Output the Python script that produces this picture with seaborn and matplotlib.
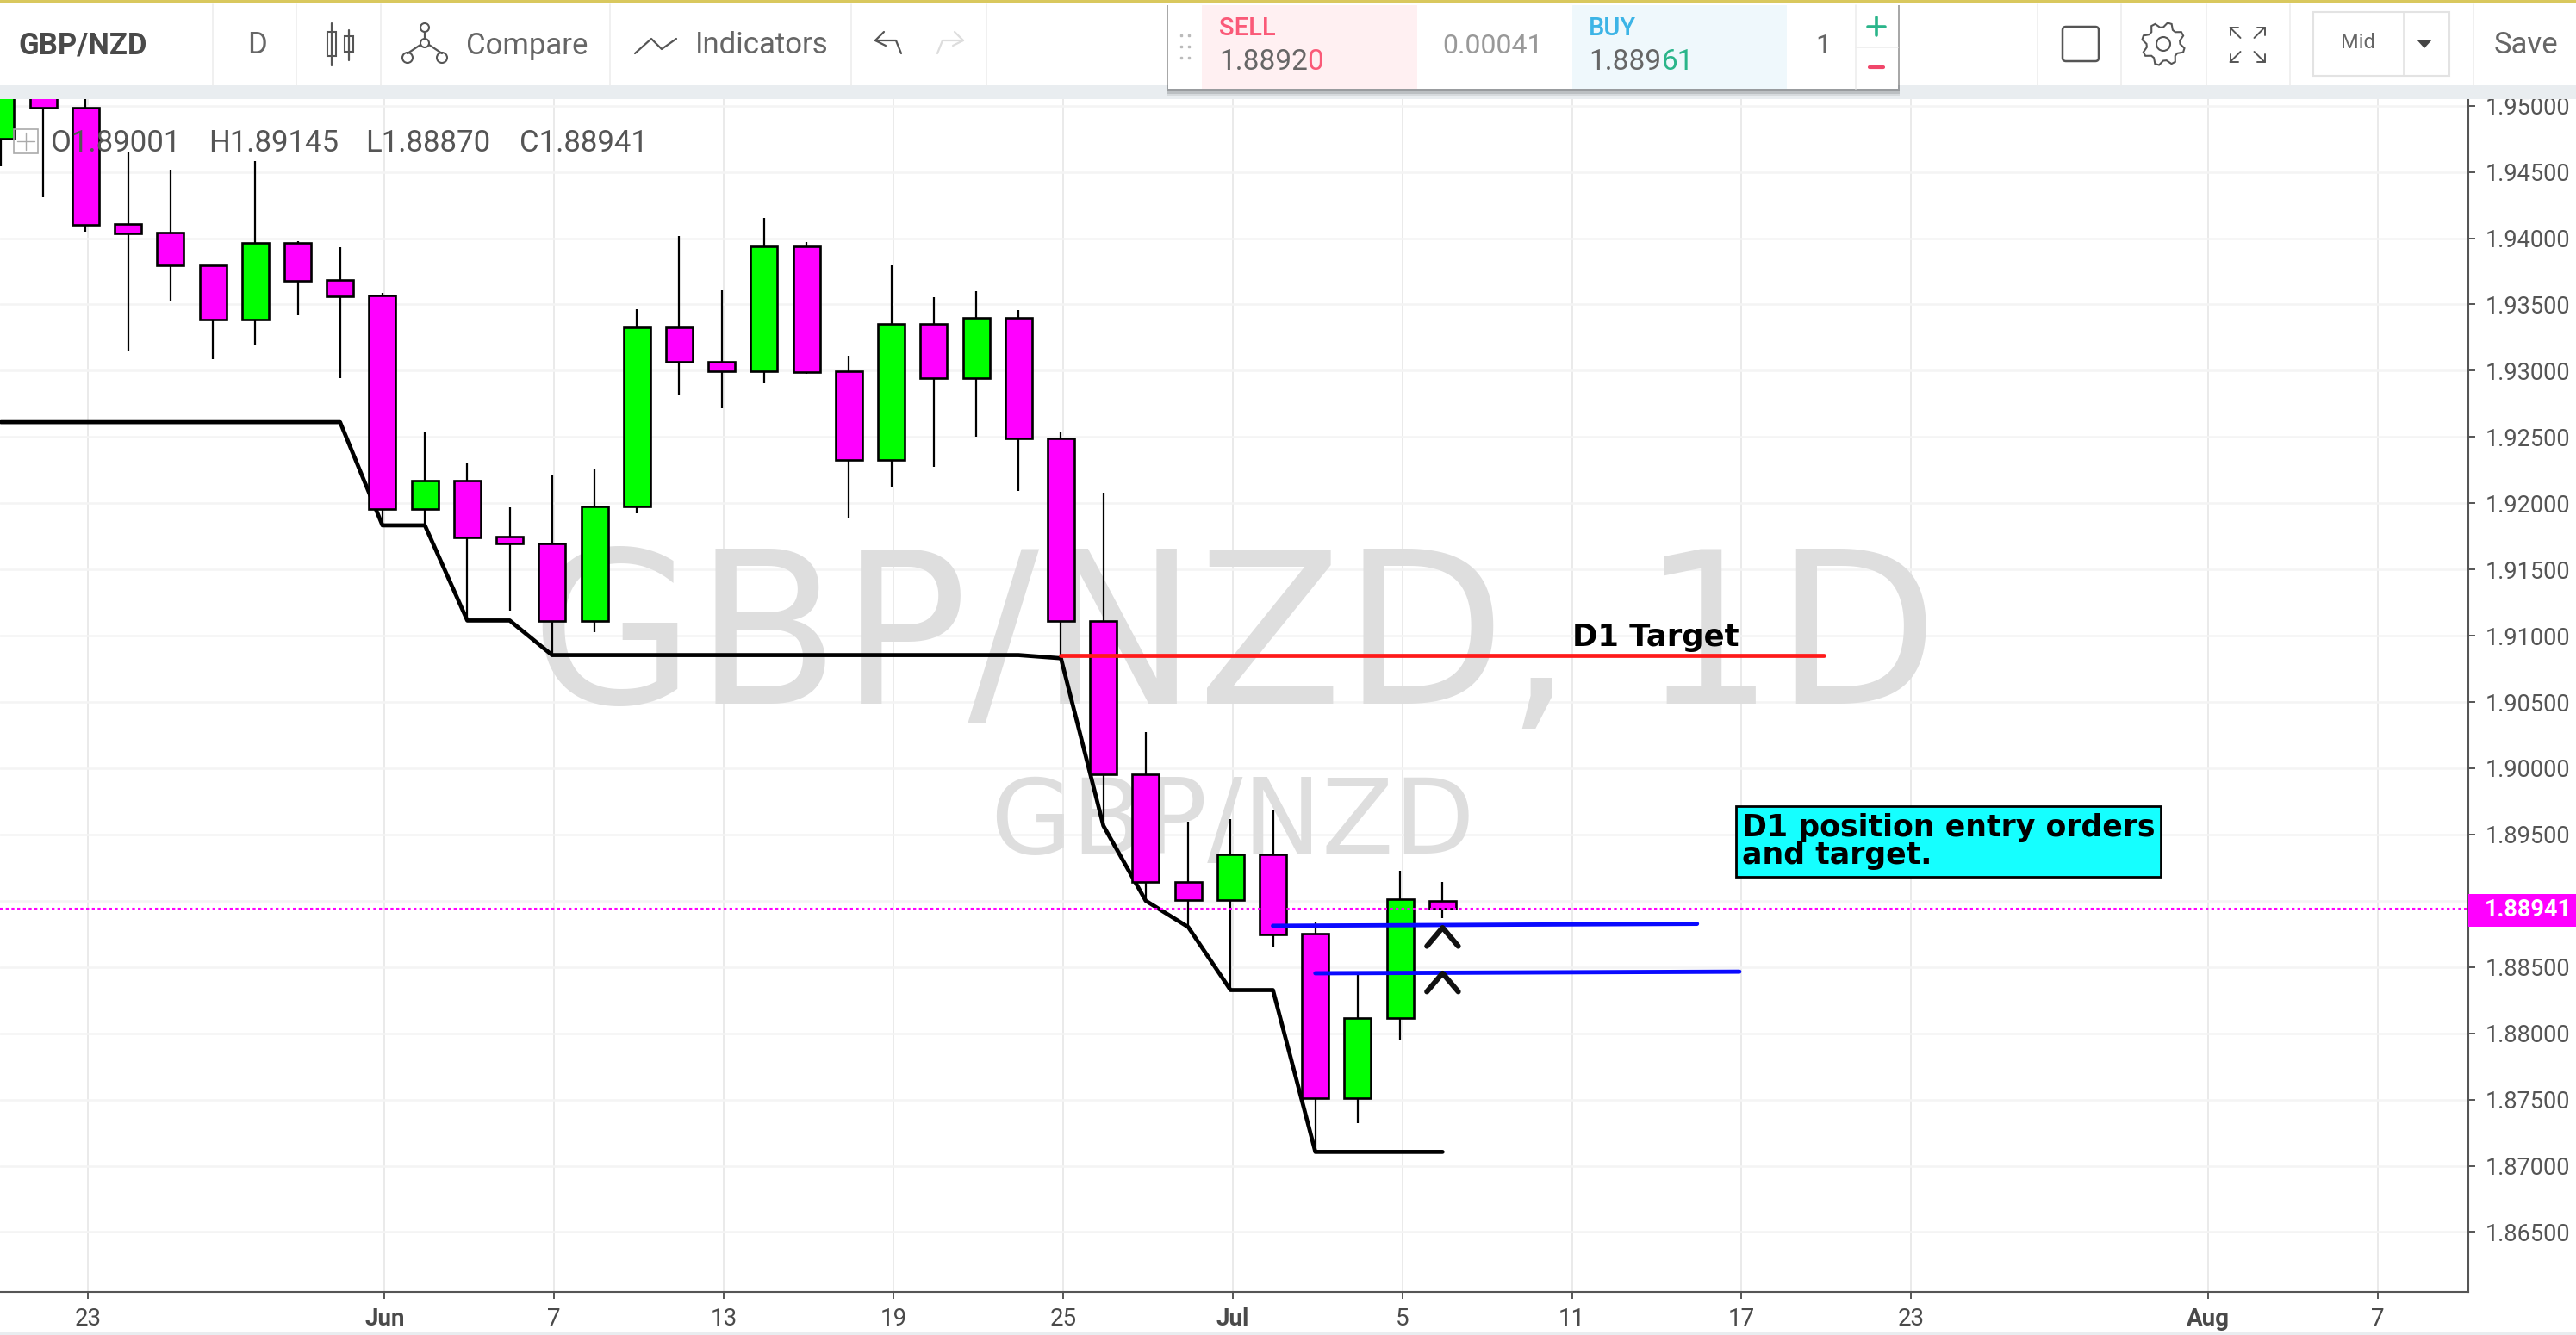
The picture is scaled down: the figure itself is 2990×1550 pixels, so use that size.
import numpy as np
import pandas as pd
import matplotlib
matplotlib.use("Agg")
import matplotlib.pyplot as plt
import seaborn as sns
from matplotlib.patches import Rectangle, Circle, Polygon, FancyBboxPatch

# daily candles
opens = [1.94750, 1.95150, 1.94985, 1.94108, 1.94044, 1.93797, 1.93387, 1.93963, 1.93684, 1.93570,
         1.91958, 1.92173, 1.91749, 1.91696, 1.91110, 1.91975, 1.93326, 1.93065, 1.92998, 1.93939,
         1.92995, 1.92329, 1.93351, 1.92943, 1.93401, 1.92491, 1.91113, 1.89953, 1.89140, 1.89006,
         1.89349, 1.88750, 1.87512, 1.88113, 1.89001]
closes = [1.95250, 1.94985, 1.94100, 1.94038, 1.93797, 1.93387, 1.93963, 1.93680, 1.93564, 1.91958,
          1.92173, 1.91743, 1.91696, 1.91110, 1.91975, 1.93326, 1.93065, 1.92998, 1.93939, 1.92992,
          1.92329, 1.93351, 1.92943, 1.93401, 1.92491, 1.91113, 1.89953, 1.89140, 1.89006, 1.89349,
          1.88747, 1.87512, 1.88113, 1.89009, 1.88941]
highs = [1.95350, 1.95250, 1.95120, 1.94650, 1.94520, 1.93797, 1.94580, 1.93980, 1.93930, 1.93590,
         1.92536, 1.92306, 1.91967, 1.92208, 1.92257, 1.93463, 1.94015, 1.93608, 1.94153, 1.93971,
         1.93111, 1.93797, 1.93554, 1.93600, 1.93459, 1.92544, 1.92078, 1.90274, 1.89599, 1.89616,
         1.89680, 1.88834, 1.88448, 1.89224, 1.89145]
lows = [1.94540, 1.94310, 1.94050, 1.93143, 1.93530, 1.93090, 1.93190, 1.93420, 1.92945, 1.91830,
        1.91830, 1.91115, 1.91190, 1.90854, 1.91028, 1.91923, 1.92814, 1.92716, 1.92903, 1.92975,
        1.91887, 1.92127, 1.92274, 1.92500, 1.92095, 1.90833, 1.89567, 1.89000, 1.88811, 1.88331,
        1.88645, 1.87105, 1.87322, 1.87945, 1.88870]

# black stop line under the candles
stop_line = [1.92612, 1.92612, 1.92612, 1.92612, 1.92612, 1.92612, 1.92612, 1.92612, 1.92612, 1.91833,
             1.91833, 1.91115, 1.91115, 1.90854, 1.90854, 1.90854, 1.90854, 1.90854, 1.90854, 1.90854,
             1.90854, 1.90854, 1.90854, 1.90854, 1.90854, 1.90830, 1.89567, 1.89000, 1.88802, 1.88326,
             1.88326, 1.87105, 1.87105, 1.87105, 1.87105]

# hand drawn lines and chevrons
target_x = [25, 43]
target_y = [1.90849, 1.90849]
entry1_x = [30, 40]
entry1_y = [1.88811, 1.88826]
entry2_x = [31, 41]
entry2_y = [1.88453, 1.88465]
chevron1_x = [33.63, 34, 34.37]
chevron1_y = [1.88657, 1.88797, 1.88657]
chevron2_x = [33.63, 34, 34.37]
chevron2_y = [1.88314, 1.88453, 1.88314]

last_price = 1.88941
x_ticks = [2, 9, 13, 17, 21, 25, 29, 33, 37, 41, 45, 52, 56]
x_labels = ["23", "Jun", "7", "13", "19", "25", "Jul", "5", "11", "17", "23", "Aug", "7"]
month_labels = ["Jun", "Jul", "Aug"]
y_ticks = [1.865, 1.87, 1.875, 1.88, 1.885, 1.89, 1.895, 1.90, 1.905, 1.91, 1.915, 1.92, 1.925,
           1.93, 1.935, 1.94, 1.945, 1.95]
# 1.89000 sits under the price flag, so it has no label
y_labels = ["1.86500", "1.87000", "1.87500", "1.88000", "1.88500", "", "1.89500", "1.90000", "1.90500",
            "1.91000", "1.91500", "1.92000", "1.92500", "1.93000", "1.93500", "1.94000", "1.94500", "1.95000"]

PINK = "#ff00ff"
GREEN = "#00ff00"
GREY = "#555555"

df = pd.DataFrame({"idx": range(len(opens)), "open": opens, "close": closes, "high": highs, "low": lows})
df["bottom"] = df[["open", "close"]].min(axis=1)
df["height"] = (df["open"] - df["close"]).abs()
df["up"] = df["close"] > df["open"]

sns.set_theme(style="white")
plt.rcParams["font.family"] = ["Roboto", "DejaVu Sans"]

fig = plt.figure(figsize=(29.9, 15.5), dpi=100)
ax = fig.add_axes([0, 50 / 1550, 2865 / 2990, 1385 / 1550])

# candles
ax.vlines(df["idx"], df["low"], df["high"], color="black", lw=1.6, zorder=2)
for is_up, colour in [(True, GREEN), (False, PINK)]:
    sub = df[df["up"] == is_up]
    sns.barplot(data=sub, x="idx", y="height", bottom=sub["bottom"].values, native_scale=True,
                color=colour, saturation=1, width=0.63, edgecolor="black", linewidth=1.9,
                errorbar=None, zorder=3, ax=ax)

sns.lineplot(x=df["idx"], y=stop_line, color="black", lw=3.4, estimator=None, sort=False, zorder=1.5, ax=ax)
ax.axhline(last_price, color=PINK, lw=1.5, ls=(0, (1.6, 1.6)), zorder=4)

sns.lineplot(x=target_x, y=target_y, color="#ff1a1a", lw=3.4, estimator=None, zorder=5, ax=ax)
sns.lineplot(x=entry1_x, y=entry1_y, color="#0a0aff", lw=3.5, estimator=None, zorder=5, ax=ax)
sns.lineplot(x=entry2_x, y=entry2_y, color="#0a0aff", lw=3.5, estimator=None, zorder=5, ax=ax)
for cx, cy in [(chevron1_x, chevron1_y), (chevron2_x, chevron2_y)]:
    sns.lineplot(x=cx, y=cy, color="#111111", lw=4.4, estimator=None, sort=False, zorder=5, ax=ax)

# watermarks
ax.text(29.1, 1.91095, "GBP/NZD, 1D", family="DejaVu Sans", fontsize=177, color="#dedede",
        ha="center", va="center_baseline", zorder=0.8)
ax.text(29.05, 1.89658, "GBP/NZD", family="DejaVu Sans", fontsize=88, color="#dedede",
        ha="center", va="center_baseline", zorder=0.8)

ax.set_xlim(-0.02, 58.19)
ax.set_ylim(1.86048, 1.9505)
ax.set_xlabel("")
ax.set_ylabel("")
ax.set_xticks([t + 0.05 for t in x_ticks])
ax.set_xticklabels(x_labels)
ax.set_yticks(y_ticks)
ax.set_yticklabels(y_labels)
ax.yaxis.tick_right()
ax.tick_params(axis="x", length=6, width=1.4, color=GREY, labelcolor="#4a4a4a", labelsize=20, pad=7, bottom=True)
ax.tick_params(axis="y", length=6, width=1.4, color=GREY, labelcolor=GREY, labelsize=19.5, pad=8, right=True)
for lab in ax.get_xticklabels():
    if lab.get_text() in month_labels:
        lab.set_fontweight("bold")
ax.set_axisbelow(True)
ax.xaxis.grid(True, color="#e8e8e8", lw=1.3)
ax.yaxis.grid(True, color="#f4f4f4", lw=1.8)
for side in ["top", "left"]:
    ax.spines[side].set_visible(False)
for side in ["right", "bottom"]:
    ax.spines[side].set_color(GREY)
    ax.spines[side].set_linewidth(1.5)

# overlay in pixel coordinates for the toolbar and labels
ui = fig.add_axes([0, 0, 1, 1], zorder=10)
ui.set_xlim(0, 2990)
ui.set_ylim(1550, 0)
ui.axis("off")


def box(x0, y0, x1, y1, **kw):
    ui.add_patch(Rectangle((x0, y0), x1 - x0, y1 - y0, **kw))


def stroke(xs, ys, color=GREY, lw=1.6):
    ui.plot(xs, ys, color=color, lw=lw, solid_capstyle="round")


box(0, 0, 2990, 99, color="white", lw=0)
box(0, 99, 2990, 115, color="#e9edf0", lw=0)
box(0, 0, 2990, 4, color="#d9c85e", lw=0)
box(0, 1546, 2990, 1550, color="#e9edf0", lw=0)
for sx in [247, 344, 442, 708, 988, 1145, 2365, 2462, 2561, 2658, 2871]:
    stroke([sx, sx], [5, 99], color="#eeeeee", lw=1.2)

ui.text(21, 53, "GBP/NZD", fontsize=25, fontweight="bold", color="#4a4a4a", va="center")
ui.text(298, 53, "D", fontsize=25, color="#666666", ha="center", va="center")
ui.text(541, 53, "Compare", fontsize=25, color="#666666", va="center")
ui.text(807, 53, "Indicators", fontsize=25, color="#666666", va="center")

# chart type icon
stroke([385, 385], [27, 76])
stroke([405, 405], [35, 70])
box(380, 37, 390, 65, facecolor="white", ec=GREY, lw=1.5)
box(400, 42, 410, 60, facecolor="white", ec=GREY, lw=1.5)

# compare icon
ui.add_patch(Circle((493, 32), 5, fill=False, ec=GREY, lw=1.5))
ui.add_patch(Circle((493, 50), 5, fill=False, ec=GREY, lw=1.5))
stroke([493, 493], [37, 45])
stroke([488, 473], [52, 62])
stroke([498, 513], [52, 62])
ui.add_patch(Circle((473, 67), 6, fill=False, ec=GREY, lw=1.5))
ui.add_patch(Circle((513, 67), 6, fill=False, ec=GREY, lw=1.5))

# indicators icon
stroke([737, 756, 768, 785], [62, 45, 57, 45])

# undo / redo
stroke([1026, 1016, 1028], [37, 47, 53])
stroke([1016, 1040, 1046], [47, 47, 62])
stroke([1108, 1118, 1106], [37, 47, 53], color="#dddddd")
stroke([1118, 1094, 1088], [47, 47, 62], color="#dddddd")

# trading panel
for off, alpha in [(9, 0.08), (6, 0.12), (3, 0.18)]:
    box(1356 - 2, 6, 2203 + 2, 103 + off, color="black", alpha=alpha, lw=0)
box(1356, 6, 2203, 103, color="white", lw=0)
box(1395, 6, 1645, 103, color="#fff0f2", lw=0)
box(1825, 6, 2074, 103, color="#eff8fc", lw=0)
stroke([2154, 2154], [6, 103], color="#eeeeee", lw=1.2)
stroke([2154, 2203], [55, 55], color="#eeeeee", lw=1.2)
for gy in [41, 54, 67]:
    ui.plot([1371, 1380], [gy, gy], ls="none", marker="s", ms=2, color="#bbbbbb")

ui.text(1415, 33, "SELL", fontsize=21, fontweight="medium", color="#fa5a78", va="center")
ui.text(1415, 72, "1.8892", fontsize=24, color="#666666", va="center")
ui.text(1517, 72, "0", fontsize=24, color="#fa5a78", va="center")
ui.text(1733, 54, "0.00041", fontsize=23, color="#999999", ha="center", va="center")
ui.text(1844, 33, "BUY", fontsize=21, fontweight="medium", color="#3cb4e6", va="center")
ui.text(1844, 72, "1.889", fontsize=24, color="#666666", va="center")
ui.text(1929, 72, "61", fontsize=24, color="#2ab58a", va="center")
ui.text(2116, 54, "1", fontsize=23, color="#666666", ha="center", va="center")
stroke([2178, 2178], [20, 41], color="#2ab58a", lw=2.6)
stroke([2168, 2188], [31, 31], color="#2ab58a", lw=2.6)
stroke([2170, 2186], [78, 78], color="#f0466a", lw=3.0)

# right hand icons
ui.add_patch(FancyBboxPatch((2394, 31), 42, 40, boxstyle="round,pad=0,rounding_size=4", fill=False, ec=GREY, lw=1.8))
gear_a = np.linspace(0, 2 * np.pi, 32, endpoint=False)
gear_r = np.where(np.arange(32) % 4 < 2, 1.0, 0.78)
ui.add_patch(Polygon(np.c_[2511 + 25 * gear_r * np.cos(gear_a + 0.2), 51 + 25 * gear_r * np.sin(gear_a + 0.2)],
                     fill=False, ec=GREY, lw=1.5))
ui.add_patch(Circle((2511, 51), 8, fill=False, ec=GREY, lw=1.5))
for sx, sy in [(1, 1), (-1, 1), (1, -1), (-1, -1)]:
    cx, cy = 2608.5 + sx * 20, 52 + sy * 20
    stroke([cx, cx - sx * 12], [cy, cy - sy * 12], lw=1.4)
    stroke([cx, cx - sx * 9], [cy, cy], lw=1.4)
    stroke([cx, cx], [cy, cy - sy * 9], lw=1.4)
box(2685, 14, 2843, 88, fill=False, ec="#e3e3e3", lw=1.5)
stroke([2790, 2790], [14, 88], color="#e3e3e3", lw=1.2)
ui.text(2737, 50, "Mid", fontsize=17, color="#666666", ha="center", va="center")
ui.add_patch(Polygon([[2805, 46], [2823, 46], [2814, 56]], color="#444444", lw=0))
ui.text(2932, 53, "Save", fontsize=25, color="#666666", ha="center", va="center")

# OHLC legend
box(16, 150, 44, 178, fill=False, ec="#aaaaaa", lw=1.2)
stroke([30, 30], [154, 174], color="#aaaaaa", lw=1.0)
stroke([20, 40], [164, 164], color="#aaaaaa", lw=1.0)
for lx, txt in [(59, "O1.89001"), (242, "H1.89145"), (424, "L1.88870"), (603, "C1.88941")]:
    ui.text(lx, 166, txt, fontsize=25, color=GREY, va="center")

# current price flag
box(2865, 1037.5, 2990, 1075.5, color=PINK, lw=0)
ui.text(2884, 1056, "1.88941", fontsize=19.5, fontweight="bold", color="white", va="center")

# drawn labels
ui.text(1825, 740, "D1 Target", family="DejaVu Sans", fontsize=25.5, fontweight="bold", color="black", va="center")
box(2015, 936, 2508, 1018, facecolor="#15ffff", edgecolor="black", lw=2)
ui.text(2022, 977, "D1 position entry orders\nand target.", family="DejaVu Sans", fontsize=25,
        fontweight="bold", color="black", va="center", linespacing=0.92)

fig.savefig("out.png", dpi=100)
